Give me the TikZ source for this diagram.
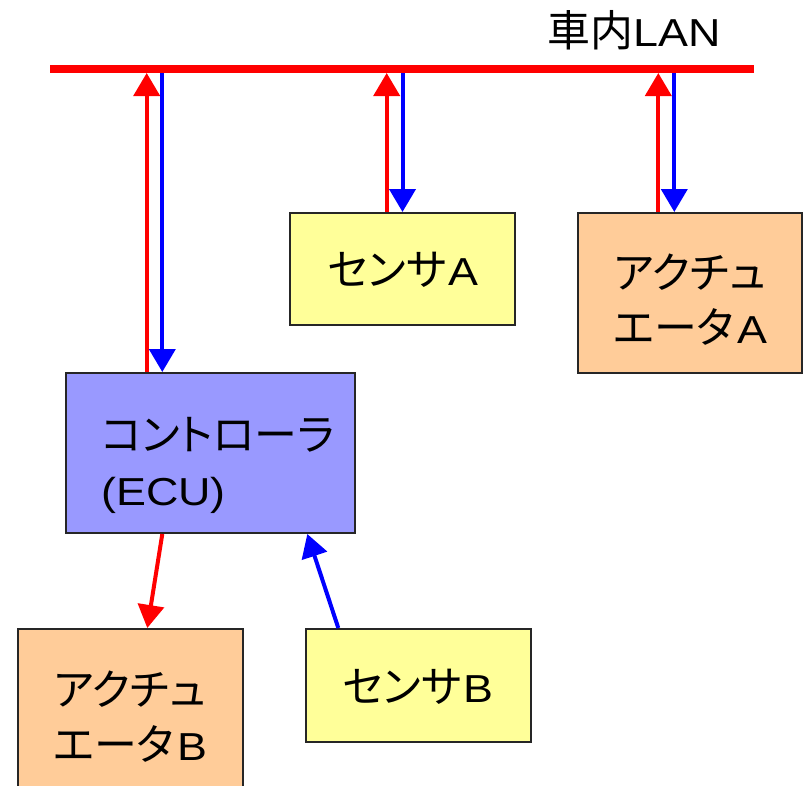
\documentclass[tikz,border=0pt]{standalone}
\usepackage{fontspec}
\setmainfont{Liberation Sans}[FakeStretch=1.15]
\newfontfamily\jp{Noto Sans CJK JP}[Scale=1.1,RawFeature=+palt]
\usetikzlibrary{arrows.meta}
\definecolor{ecuc}{HTML}{9999FF}
\definecolor{sensc}{HTML}{FFFF99}
\definecolor{actc}{HTML}{FFCC99}
\definecolor{redc}{HTML}{FF0000}
\definecolor{bluec}{HTML}{0000FF}
\tikzset{
  box/.style={draw=black!85, line width=2pt, inner sep=0pt},
  txt/.style={inner sep=0pt, align=center, font=\fontsize{39}{55}\selectfont},
  redar/.style={draw=redc, line width=4pt, -{Triangle[length=23pt,width=26pt]}},
  bluear/.style={draw=bluec, line width=4pt, -{Triangle[length=23pt,width=26pt]}},
  busline/.style={draw=redc, line width=8pt}
}
\begin{document}
\begin{tikzpicture}[x=1pt,y=-1pt]
\useasboundingbox (0,0) rectangle (803,785);
% boxes
\node[box, fill=ecuc, minimum width=289pt, minimum height=160pt] (ecu) at (210.5,453) {};
\node[box, fill=sensc, minimum width=225pt, minimum height=112pt] (sa) at (402.5,269) {};
\node[box, fill=actc, minimum width=224pt, minimum height=160pt] (aa) at (690,293) {};
\node[box, fill=actc, minimum width=224.5pt, minimum height=160pt] (ab) at (130.3,709) {};
\node[box, fill=sensc, minimum width=225pt, minimum height=113pt] (sb) at (418.5,685.5) {};
% texts
\node[txt, anchor=west, align=left] (ecutxt) at (101,465) {{\jp コントローラ}\\(ECU)};
\node[txt] (satxt) at (403,270) {{\jp センサ}\kern2pt A};
\node[txt] (aatxt) at (690,300) {{\jp アクチュ}\\{\jp エータ}\kern3pt A};
\node[txt] (abtxt) at (130,717) {{\jp アクチュ}\\{\jp エータ}\kern3pt B};
\node[txt] (sbtxt) at (418,687) {{\jp センサ}\kern2pt B};
% bus
\coordinate (busL) at (50,69);
\coordinate (busR) at (754,69);
\coordinate (busb) at (0,73);
\node[txt] (lan) at (634,30) {{\jp 車内}LAN};
% vertical connections
\draw[redar] ([xshift=-63.8pt]ecu.north) -- ([xshift=-63.8pt]ecu.north |- busb);
\draw[bluear] ([xshift=-48.2pt]ecu.north |- busb) -- ([xshift=-48.2pt]ecu.north);
\draw[redar] ([xshift=-15.8pt]sa.north) -- ([xshift=-15.8pt]sa.north |- busb);
\draw[bluear] (sa.north |- busb) -- (sa.north);
\draw[redar] ([xshift=-31.7pt]aa.north) -- ([xshift=-31.7pt]aa.north |- busb);
\draw[bluear] ([xshift=-15.7pt]aa.north |- busb) -- ([xshift=-15.7pt]aa.north);
\draw[busline] (busL) -- (busR);
% lower connections
\draw[redar] ([xshift=-48.2pt]ecu.south) -- ([xshift=17pt]ab.north);
\draw[bluear] ([xshift=-80.2pt]sb.north) -- ([xshift=96.8pt]ecu.south);
\end{tikzpicture}
\end{document}
